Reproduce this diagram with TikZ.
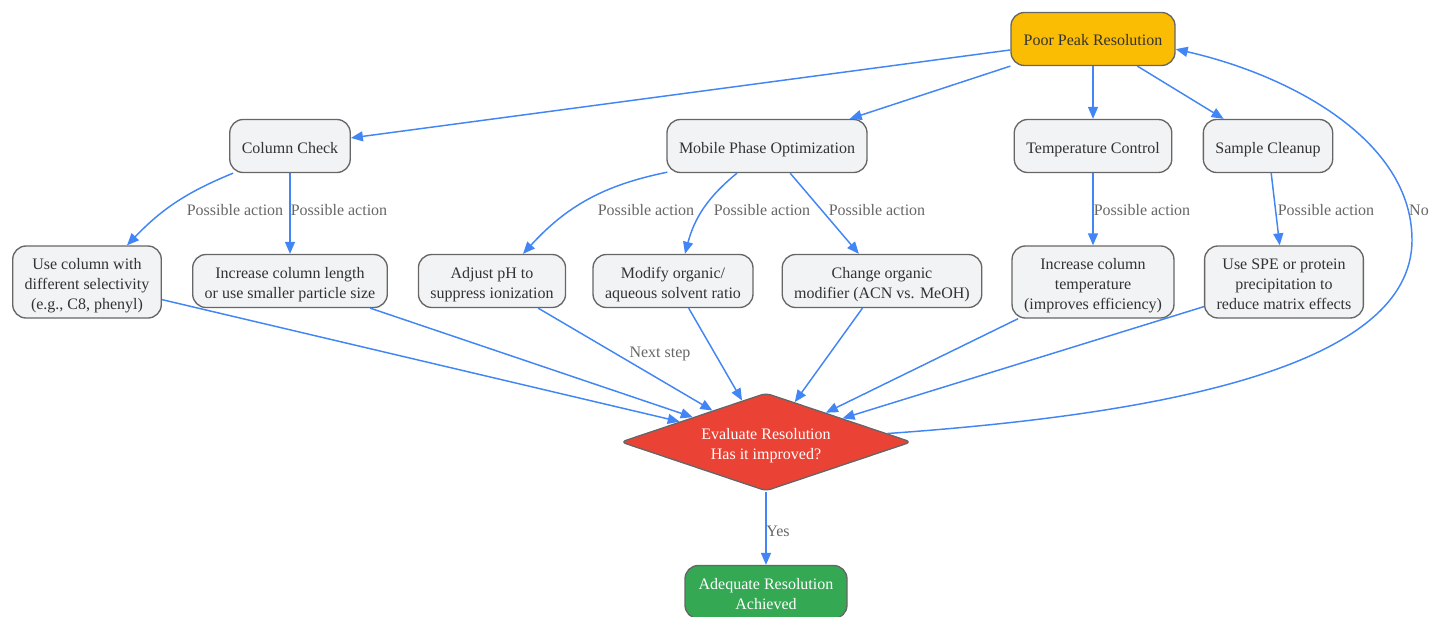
\documentclass[tikz,border=0pt]{standalone}
\usepackage{fontspec}
\setmainfont{Liberation Serif}
\usetikzlibrary{shapes.geometric,arrows.meta,calc}
\definecolor{edgeblue}{HTML}{4285F4}
\definecolor{boxfill}{HTML}{F1F3F4}
\definecolor{boxline}{HTML}{666666}
\definecolor{amber}{HTML}{FBBC04}
\definecolor{redd}{HTML}{EA4335}
\definecolor{greenn}{HTML}{34A853}
\definecolor{txt}{HTML}{333333}
\definecolor{lbl}{HTML}{666666}
\newcommand{\bst}{\rule{0pt}{13.5pt}}
\newcommand{\est}{\rule[-3pt]{0pt}{3pt}}
\tikzset{
  box/.style={draw=boxline, line width=1pt, fill=boxfill, rounded corners=10pt,
    align=center, text=txt, font=\fontsize{12pt}{15pt}\selectfont,
    inner xsep=9pt, inner ysep=3.75pt, minimum height=39.75pt},
  arr/.style={draw=edgeblue, line width=1.1pt, -{Triangle[length=9pt,width=7.5pt]}},
  elabel/.style={text=lbl, font=\fontsize{12pt}{15pt}\selectfont, inner sep=1pt},
}
\begin{document}
\begin{tikzpicture}[x=0.75pt,y=-0.75pt]
\useasboundingbox (0,0) rectangle (1431,617);
% nodes
\node[box, fill=amber, minimum width=123pt] (ppr) at (1093,39) {\bst Poor Peak Resolution\est};
\node[box] (cc) at (290,146) {\bst Column Check\est};
\node[box] (mpo) at (767,146) {\bst Mobile Phase Optimization\est};
\node[box] (tc) at (1093,146) {\bst Temperature Control\est};
\node[box] (sc) at (1268,146) {\bst Sample Cleanup\est};
\node[box] (uc) at (87,282) {\bst Use column with\\different selectivity\\(e.g., C8, phenyl)\est};
\node[box] (il) at (290,281) {\bst Increase column length\\or use smaller particle size\est};
\node[box] (ap) at (492,281) {\bst Adjust pH to\\suppress ionization\est};
\node[box] (mo) at (673,281) {\bst Modify organic/\\aqueous solvent ratio\est};
\node[box] (co) at (882,281) {\bst Change organic\\modifier (ACN vs. MeOH)\est};
\node[box] (it) at (1093,282) {\bst Increase column\\temperature\\(improves efficiency)\est};
\node[box] (spe) at (1284,282) {\bst Use SPE or protein\\precipitation to\\reduce matrix effects\est};
\node[diamond, draw=boxline, line width=1pt, fill=redd, text=white, align=center,
  font=\fontsize{12pt}{15pt}\selectfont, inner sep=0pt, shape aspect=3,
  minimum width=218pt, minimum height=73.5pt, rounded corners=4pt] (d) at (766,442)
  {\bst Evaluate Resolution\\Has it improved?\est};
\node[box, fill=greenn, text=white, minimum width=121.5pt] (ar) at (766,592) {\bst Adequate Resolution\\Achieved\est};
% edges from top
\draw[arr] (ppr) -- (cc);
\draw[arr] (ppr) -- (mpo);
\draw[arr] (ppr) -- (tc);
\draw[arr] (ppr) -- (sc);
% second level
\draw[arr] ($(cc.south west)+(4,0)$) to[bend right=12] ($(uc.north)+(40,0)$);
\draw[arr] (cc) -- (il);
\draw[arr] ($(mpo.south west)+(1,-1)$) to[bend right=18] ($(ap.north)+(31,0)$);
\draw[arr] ($(mpo.south)+(-30,0)$) to[bend right=18] ($(mo.north)+(12,0)$);
\draw[arr] (mpo) -- (co);
\draw[arr] (tc) -- (it);
\draw[arr] (sc) -- (spe);
% to decision
\draw[arr] (uc) -- (d);
\draw[arr] (il) -- (d);
\draw[arr] (ap) -- (d);
\draw[arr] (mo) -- (d);
\draw[arr] (co) -- (d);
\draw[arr] (it) -- (d);
\draw[arr] (spe) -- (d);
\draw[arr] (d) -- (ar);
\draw[arr] (d.4) .. controls (1150,415) and (1412,370) .. (1412,240)
  .. controls (1412,140) and (1290,75) .. (ppr.-7);
% labels
\node[elabel] (l1) at (235,210) {Possible action};
\node[elabel] (l2) at (339,210) {Possible action};
\node[elabel] (l3) at (646,210) {Possible action};
\node[elabel] (l4) at (762,210) {Possible action};
\node[elabel] (l5) at (877,210) {Possible action};
\node[elabel] (l6) at (1142,210) {Possible action};
\node[elabel] (l7) at (1326,210) {Possible action};
\node[elabel] (ln) at (660,354) {Next step};
\node[elabel] (ly) at (778,531) {Yes};
\node[elabel] (lno) at (1419,210) {No};
\end{tikzpicture}
\end{document}
